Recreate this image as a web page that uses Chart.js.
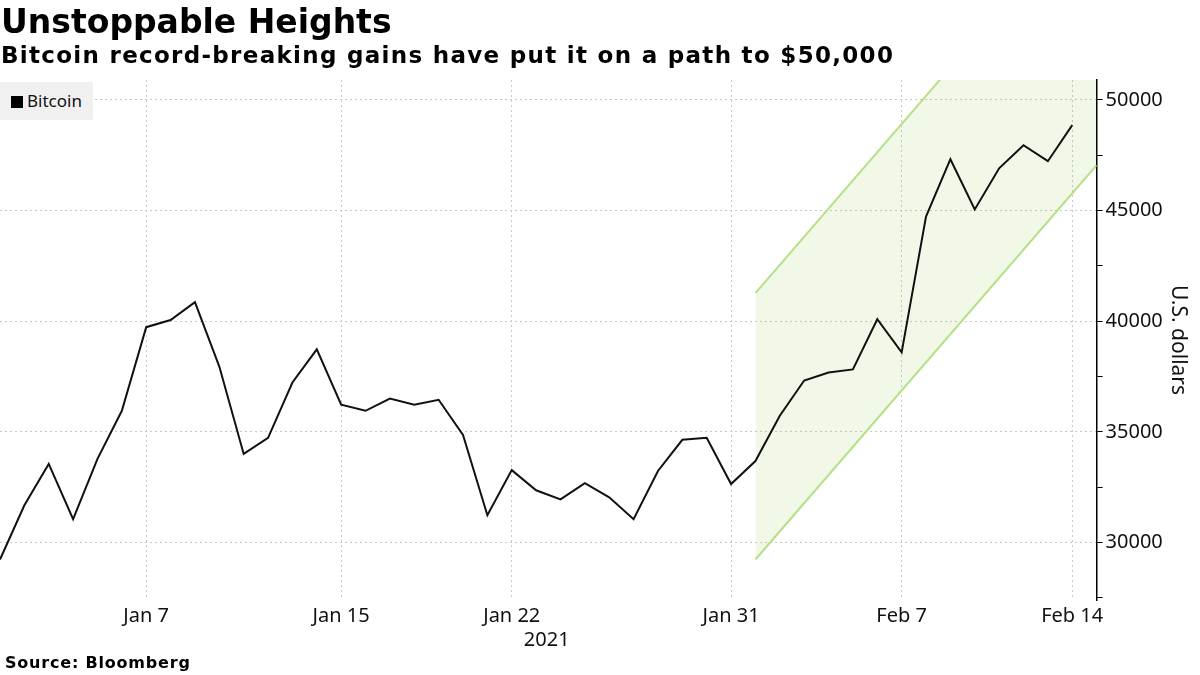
<!DOCTYPE html>
<html>
<head>
<meta charset="utf-8">
<script src="https://cdn.jsdelivr.net/npm/chart.js@4/dist/chart.umd.min.js"></script>
<style>
  html, body { margin: 0; padding: 0; background: #fff; }
  #wrap { position: relative; width: 1200px; height: 675px; overflow: hidden; }
  #wrap canvas { position: absolute; left: 0; top: 0; }
  .title { position: absolute; left: 1px; top: 2px; font: bold 33px "DejaVu Sans"; color: #000; white-space: nowrap; }
  .subtitle { position: absolute; left: 1px; top: 42px; font: bold 23px "DejaVu Sans"; letter-spacing: 1.3px; color: #000; white-space: nowrap; }
  .source { position: absolute; left: 5px; top: 653px; font: bold 16px "DejaVu Sans"; letter-spacing: 0.8px; color: #000; white-space: nowrap; }
  .legend { position: absolute; left: 0; top: 82px; width: 93px; height: 38px; background: #f0f0f0;
            font: 17px "Noto Sans"; color: #111; }
  .legend span.box { position: absolute; left: 11px; top: 14px; width: 12px; height: 12px; background: #000; }
  .legend span.txt { position: absolute; left: 27px; top: 7px; }
</style>
</head>
<body>
<div id="wrap">
  <canvas id="myChart" width="1200" height="675"></canvas>
  <div class="title">Unstoppable Heights</div>
  <div class="subtitle">Bitcoin record-breaking gains have put it on a path to $50,000</div>
  <div class="legend"><span class="box"></span><span class="txt">Bitcoin</span></div>
  <div class="source">Source: Bloomberg</div>
</div>
<script>
// 비트코인 일별 종가 (Jan 1 ~ Feb 14, 2021)
const dates = ['Jan 1','Jan 2','Jan 3','Jan 4','Jan 5','Jan 6','Jan 7','Jan 8','Jan 9','Jan 10',
  'Jan 11','Jan 12','Jan 13','Jan 14','Jan 15','Jan 16','Jan 17','Jan 18','Jan 19','Jan 20',
  'Jan 21','Jan 22','Jan 23','Jan 24','Jan 25','Jan 26','Jan 27','Jan 28','Jan 29','Jan 30',
  'Jan 31','Feb 1','Feb 2','Feb 3','Feb 4','Feb 5','Feb 6','Feb 7','Feb 8','Feb 9',
  'Feb 10','Feb 11','Feb 12','Feb 13','Feb 14'];
const bitcoin = [29230, 31680, 33550, 31050, 33780, 35950, 39730, 40050, 40860, 37950,
  34000, 34730, 37230, 38730, 36230, 35950, 36500, 36230, 36450, 34860,
  31230, 33270, 32360, 31950, 32680, 32040, 31050, 33230, 34640, 34730,
  32640, 33680, 35730, 37320, 37680, 37820, 40090, 38590, 44730, 47320,
  45050, 46910, 47950, 47230, 48860];

// 상승 채널 (Feb 1 ~ Feb 15)
const channelDays = [31, 45];
const channelUpper = [41270, 59100];
const channelLower = [29230, 47050];

// 축 눈금
const xTickDays = [6, 14, 21, 30, 37, 44];
const xTickLabels = ['Jan 7', 'Jan 15', 'Jan 22', 'Jan 31', 'Feb 7', 'Feb 14'];
const yTicks = [27500, 30000, 32500, 35000, 37500, 40000, 42500, 45000, 47500, 50000];

const btcPoints = bitcoin.map((v, i) => ({x: i, y: v}));
const upperPoints = channelDays.map((d, i) => ({x: d, y: channelUpper[i]}));
const lowerPoints = channelDays.map((d, i) => ({x: d, y: channelLower[i]}));

// 2021 연도 표시
const yearLabel = {
  id: 'yearLabel',
  afterDraw(chart) {
    const xs = chart.scales.x;
    const ctx = chart.ctx;
    ctx.save();
    ctx.font = '20px "Noto Sans"';
    ctx.fillStyle = '#111';
    ctx.textAlign = 'center';
    ctx.textBaseline = 'middle';
    ctx.fillText('2021', xs.getPixelForValue(21) + 35, xs.top + 40);
    ctx.restore();
  }
};

Chart.defaults.font.family = '"Noto Sans"';
Chart.defaults.color = '#111';

const ctx = document.getElementById('myChart').getContext('2d');
const myChart = new Chart(ctx, {
  type: 'line',
  data: {
    datasets: [
      {
        label: 'Bitcoin',
        data: btcPoints,
        borderColor: '#111',
        borderWidth: 2,
        pointRadius: 0,
        fill: false,
        tension: 0
      },
      {
        label: 'upper',
        data: upperPoints,
        borderColor: '#b5e186',
        borderWidth: 2,
        pointRadius: 0,
        backgroundColor: 'rgba(140,200,60,0.12)',
        fill: '+1'
      },
      {
        label: 'lower',
        data: lowerPoints,
        borderColor: '#b5e186',
        borderWidth: 2,
        pointRadius: 0,
        fill: false
      }
    ]
  },
  options: {
    responsive: false,
    animation: false,
    layout: { padding: { top: 80, right: 0, bottom: 43, left: 0 } },
    plugins: {
      legend: { display: false },
      tooltip: { enabled: false },
      filler: { drawTime: 'beforeDatasetsDraw' }
    },
    scales: {
      x: {
        type: 'linear',
        min: 0,
        max: 45,
        afterBuildTicks: (scale) => { scale.ticks = xTickDays.map(v => ({value: v})); },
        ticks: {
          font: { size: 20 },
          padding: 4,
          maxRotation: 0,
          autoSkip: false,
          callback: (value) => xTickLabels[xTickDays.indexOf(value)]
        },
        grid: { color: '#c8c8c8', drawTicks: false },
        border: { display: false, dash: [2, 3] }
      },
      y: {
        position: 'right',
        min: 27400,
        max: 50900,
        afterBuildTicks: (scale) => { scale.ticks = yTicks.map(v => ({value: v})); },
        ticks: {
          font: { size: 20 },
          padding: 3,
          callback: (value) => value % 5000 === 0 ? String(value) : ''
        },
        grid: {
          color: (c) => (c.tick && c.tick.value % 5000 === 0) ? '#c8c8c8' : 'rgba(0,0,0,0)',
          tickColor: '#000',
          tickLength: 6,
          tickWidth: 1
        },
        border: { display: true, color: '#000', width: 1.5, dash: [2, 3] },
        title: {
          display: true,
          text: 'U.S. dollars',
          font: { size: 21 },
          color: '#111',
          padding: { top: 9, bottom: 0 }
        }
      }
    }
  },
  plugins: [yearLabel]
});
</script>
</body>
</html>
